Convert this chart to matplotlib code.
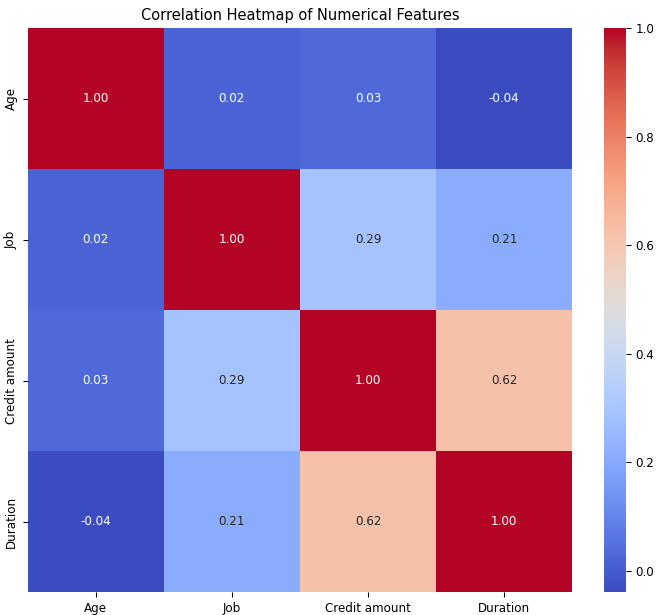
import numpy as np
import matplotlib
matplotlib.use("Agg")
import matplotlib.pyplot as plt
import seaborn as sns
import pandas as pd

features = ["Age", "Job", "Credit amount", "Duration"]
row_age = [1.00, 0.02, 0.03, -0.04]
row_job = [0.02, 1.00, 0.29, 0.21]
row_credit = [0.03, 0.29, 1.00, 0.62]
row_duration = [-0.04, 0.21, 0.62, 1.00]

corr = pd.DataFrame([row_age, row_job, row_credit, row_duration],
                    index=features, columns=features)

fig = plt.figure(figsize=(6.6, 6.15), dpi=100)
ax = fig.add_axes([0.042, 0.037, 0.825, 0.917])
cax = fig.add_axes([0.915, 0.037, 0.033, 0.917])

sns.heatmap(corr, annot=True, fmt=".2f", cmap="coolwarm", ax=ax, cbar_ax=cax,
            annot_kws={"fontsize": 8.6})
ax.set_title("Correlation Heatmap of Numerical Features", fontsize=10.5)
ax.tick_params(labelsize=8.6)
cax.tick_params(labelsize=8.6)

fig.savefig("out.png", dpi=100)
